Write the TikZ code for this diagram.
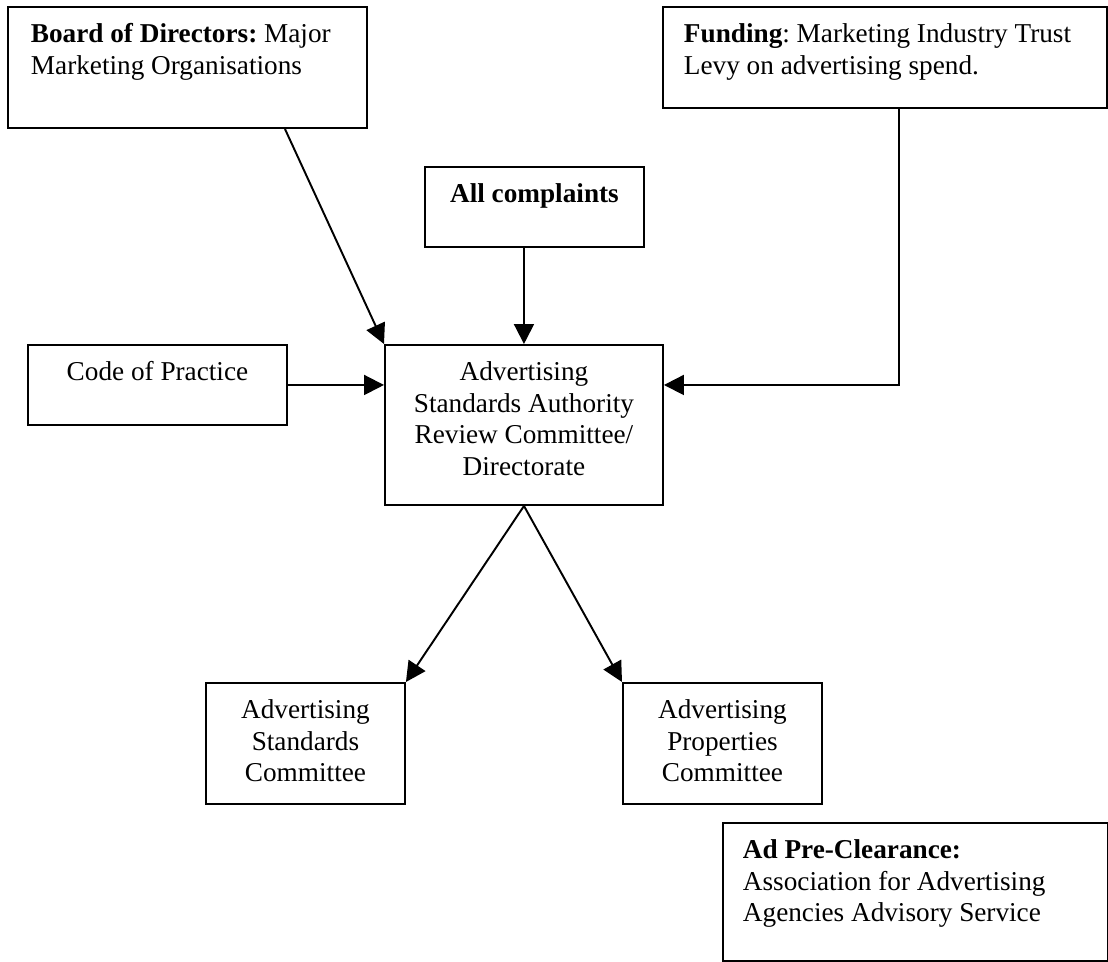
\documentclass[tikz,border=0pt]{standalone}
\usepackage{fontspec}
\setmainfont{Liberation Serif}
\usetikzlibrary{arrows.meta,calc}
\newlength\px
\setlength\px{0.02cm}
\def\boxtext#1#2#3#4{\parbox[c][#2\px][t]{#1\px}{\frenchspacing#3\rule{0pt}{36\px}#4}}
\tikzset{
	orgbox/.style={draw, line width=1.1pt, inner sep=0pt, anchor=north west, font=\fontsize{15.5}{17.9}\selectfont},
	feed/.style={draw, line width=1.1pt, -{Triangle[length=0.4cm, width=0.4cm]}}
}

\begin{document}
\begin{tikzpicture}[x=0.02cm, y=-0.02cm]
			%%%%% START %%%%%
			\useasboundingbox (0, 0) rectangle (1108, 961);
			
			\node[orgbox] (board) at (7, 6) {\boxtext{359}{121}{\raggedright\leftskip=23\px}{\textbf{Board of Directors:} Major\\Marketing Organisations}};
			\node[orgbox] (funding) at (662, 6) {\boxtext{444}{101}{\raggedright\leftskip=21\px}{\textbf{Funding}: Marketing Industry Trust\\Levy on advertising spend.}};
			\node[orgbox] (complaints) at (424, 166) {\boxtext{219}{80}{\centering}{\textbf{All complaints}}};
			\node[orgbox] (code) at (27, 344) {\boxtext{259}{80}{\centering}{Code of Practice}};
			\node[orgbox] (asa) at (384, 344) {\boxtext{278}{160}{\centering}{Advertising\\Standards Authority\\Review Committee/\\Directorate}};
			
			\node[orgbox] (asc) at (205, 682) {\boxtext{199}{121}{\centering}{Advertising\\Standards\\Committee}};
			\node[orgbox] (apc) at (622, 682) {\boxtext{199}{121}{\centering}{Advertising\\Properties\\Committee}};
			\node[orgbox] (preclear) at (722, 822) {\boxtext{385}{138}{\raggedright\leftskip=20\px}{\textbf{Ad Pre-Clearance:}\\Association for Advertising\\Agencies Advisory Service}};
			
			\draw[feed] ([xshift=5.56cm]board.south west) -- (asa.north west);
			\draw[feed] (complaints.south -| asa.north) -- (asa.north);
			\draw[feed] (code.east) -- (code.east -| asa.west);
			\draw[feed] ([xshift=4.74cm]funding.south west) |- (code.east -| asa.east);
			\draw[feed] (asa.south) -- (asc.north east);
			\draw[feed] (asa.south) -- (apc.north west);
			
			%%%%% END %%%%%
\end{tikzpicture}
\end{document}
